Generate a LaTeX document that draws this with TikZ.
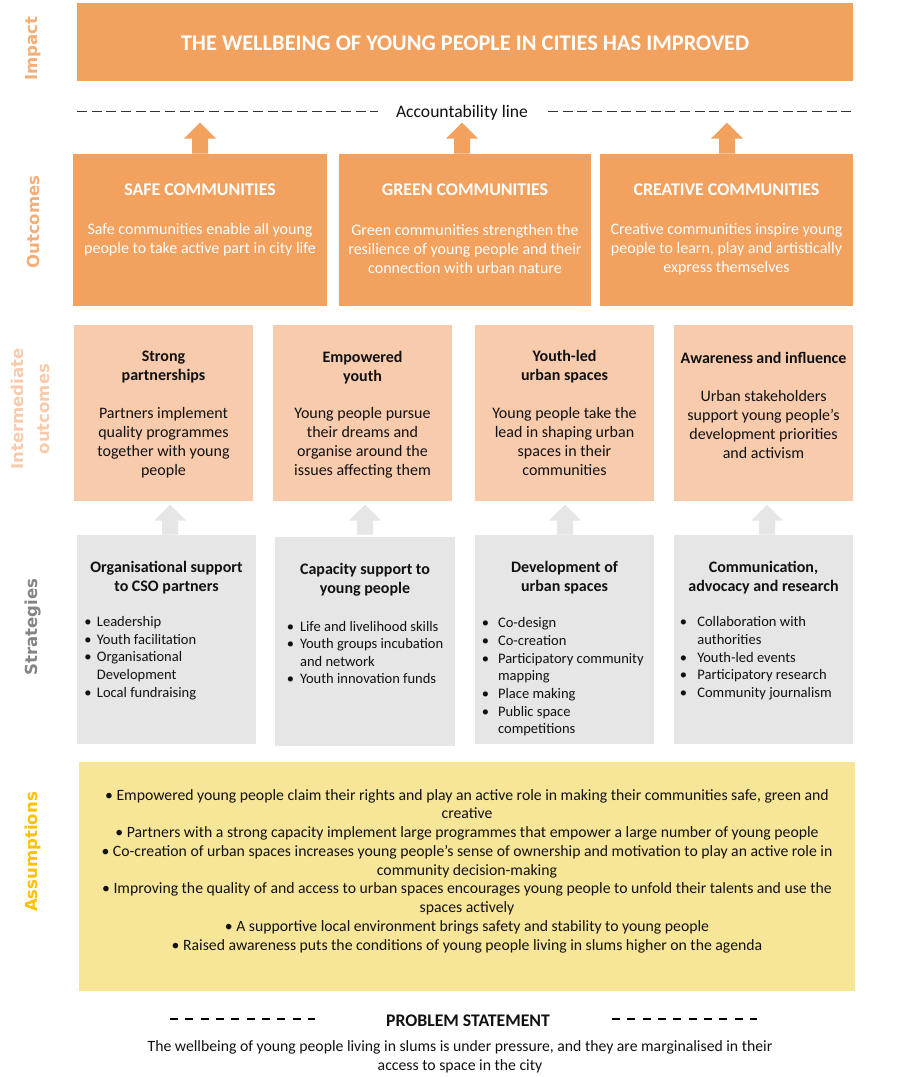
\documentclass[tikz,border=0pt]{standalone}
\usepackage{fontspec}
\setmainfont{Carlito}
\newfontfamily\labfont{DejaVu Sans}
\usetikzlibrary{calc,fit}
\definecolor{orA}{HTML}{F3A15F}
\definecolor{peach}{HTML}{F8CBAD}
\definecolor{grayA}{HTML}{E6E6E6}
\definecolor{yelA}{HTML}{F8E698}
\definecolor{labImp}{HTML}{F4AE78}
\definecolor{labInt}{HTML}{F8CBAD}
\definecolor{labStr}{HTML}{858585}
\definecolor{labAss}{HTML}{FFC000}
\definecolor{txt}{HTML}{111111}
\newcommand\bl[1][9.5pt]{\makebox[#1][l]{\textbullet}}
\newcommand\bi[1][9.5pt]{\hspace*{#1}}
\tikzset{
  frame/.style={inner sep=0pt, draw=none},
  sidelab/.style={rotate=90, font=\labfont\fontsize{12.4}{19.5}\selectfont\bfseries, inner sep=0pt, align=center},
  wtitle/.style={text=white, font=\fontsize{13.4}{16}\selectfont\bfseries, inner sep=0pt},
  wbody/.style={text=white, font=\fontsize{12}{14.25}\selectfont, inner sep=0pt, align=center},
  ktitle/.style={text=txt, font=\fontsize{12}{14.25}\selectfont\bfseries, inner sep=0pt, align=center},
  kbody/.style={text=txt, font=\fontsize{12}{14.25}\selectfont, inner sep=0pt, align=center},
  blist/.style={text=txt, font=\fontsize{10.9}{13.25}\selectfont, inner sep=0pt, align=left, anchor=west},
  accline/.style={draw=black!80, line width=0.75pt, dash pattern=on 7.5pt off 3.5pt},
  probline/.style={draw=black, line width=1.5pt, dash pattern=on 6pt off 5.5pt},
  uparrow/.pic={\fill (-8,0) -- (-8,-15) -- (-16,-15) -- (0,-31) -- (16,-15) -- (8,-15) -- (8,0) -- cycle;},
  guparrow/.pic={\fill (-8,0) -- (-8,-14) -- (-16,-14) -- (0,-30) -- (16,-14) -- (8,-14) -- (8,0) -- cycle;}
}
\begin{document}
\begin{tikzpicture}[x=0.75pt,y=-0.75pt]
\useasboundingbox (0,0) rectangle (911,1077);
\fill[white] (0,0) rectangle (911,1077);

% side labels
\node[sidelab, text=labImp] (labImpact) at (33,48.5) {Impact};
\node[sidelab, text=labImp] (labOut) at (33,222) {Outcomes};
\node[sidelab, text=labInt] (labInt) at (30,409) {Intermediate\\outcomes};
\node[sidelab, text=labStr] (labStr) at (33,627) {Strategies};
\node[sidelab, text=labAss] (labAss) at (33,852) {Assumptions};

% impact
\node[frame, fill=orA, fit={(77,3) (853,81)}] (imp) {};
\node[text=white, font=\fontsize{16.8}{19}\selectfont\bfseries, inner sep=0pt] (impt) at (465,43) {THE WELLBEING OF YOUNG PEOPLE IN CITIES HAS IMPROVED};

% accountability line
\node[text=txt, font=\fontsize{13.2}{15}\selectfont, inner sep=0pt] (acc) at (462,113) {Accountability line};
\coordinate (accA) at (77,112);
\coordinate (accB) at (378,112);
\coordinate (accC) at (548,112);
\coordinate (accD) at (853,112);
\draw[accline] (accA) -- (accB);
\draw[accline] (accC) -- (accD);

% outcomes
\node[frame, fill=orA, fit={(73,154) (327,306)}] (o1) {};
\node[frame, fill=orA, fit={(339,154) (591,306)}] (o2) {};
\node[frame, fill=orA, fit={(600,154) (853,306)}] (o3) {};
\node[wtitle] (o1t) at (200,190) {SAFE COMMUNITIES};
\node[wtitle] (o2t) at (465,190) {GREEN COMMUNITIES};
\node[wtitle] (o3t) at (726.5,190) {CREATIVE COMMUNITIES};
\node[wbody] (o1b) at (200,239.5) {Safe communities enable all young\\people to take active part in city life};
\node[wbody] (o2b) at (465,249) {Green communities strengthen the\\resilience of young people and their\\connection with urban nature};
\node[wbody] (o3b) at (726.5,249) {Creative communities inspire young\\people to learn, play and artistically\\express themselves};
\pic[orA] at ($(o1.north)+(0,0)$) {uparrow};
\pic[orA] at ($(o2.north)+(-3,0)$) {uparrow};
\pic[orA] at ($(o3.north)+(0.5,0)$) {uparrow};

% intermediate outcomes
\node[frame, fill=peach, fit={(74,325) (253,501)}] (i1) {};
\node[frame, fill=peach, fit={(273,325) (452,501)}] (i2) {};
\node[frame, fill=peach, fit={(475,325) (654,501)}] (i3) {};
\node[frame, fill=peach, fit={(674,325) (853,501)}] (i4) {};
\node[ktitle] (i1t) at (163.5,367.5) {Strong\\partnerships};
\node[ktitle] (i2t) at (362.5,367.5) {Empowered\\youth};
\node[ktitle] (i3t) at (564.5,366.5) {Youth-led\\urban spaces};
\node[ktitle] (i4t) at (763.5,358) {Awareness and influence};
\node[kbody] (i1b) at (163.5,442.5) {Partners implement\\quality programmes\\together with young\\people};
\node[kbody] (i2b) at (362.5,443) {Young people pursue\\their dreams and\\organise around the\\issues affecting them};
\node[kbody] (i3b) at (564.5,441.5) {Young people take the\\lead in shaping urban\\spaces in their\\communities};
\node[kbody] (i4b) at (763.5,424.5) {Urban stakeholders\\support young people’s\\development priorities\\and activism};

% strategies
\node[frame, fill=grayA, fit={(77,535) (256,744)}] (s1) {};
\node[frame, fill=grayA, fit={(275,537) (455,746)}] (s2) {};
\node[frame, fill=grayA, fit={(475,535) (654,744)}] (s3) {};
\node[frame, fill=grayA, fit={(674,535) (853,744)}] (s4) {};
\pic[grayA] at ($(s1.north)+(3.5,0)$) {guparrow};
\pic[grayA] at ($(s2.north)+(0,-2)$) {guparrow};
\pic[grayA] at ($(s3.north)+(0.5,0)$) {guparrow};
\pic[grayA] at ($(s4.north)+(3.5,0)$) {guparrow};
\node[ktitle] (s1t) at (166.5,577.5) {Organisational support\\to CSO partners};
\node[ktitle] (s2t) at (365,580) {Capacity support to\\young people};
\node[ktitle] (s3t) at (564.5,577.5) {Development of\\urban spaces};
\node[ktitle] (s4t) at (763.5,577.5) {Communication,\\advocacy and research};
\node[blist] (s1l) at (84,658) {\bl Leadership\\\bl Youth facilitation\\\bl Organisational\\\bi Development\\\bl Local fundraising};
\node[blist] (s2l) at (286.5,652.5) {\bl[7.5pt] Life and livelihood skills\\\bl[7.5pt] Youth groups incubation\\\bi[7.5pt] and network\\\bl[7.5pt] Youth innovation funds};
\node[blist] (s3l) at (481.5,677) {\bl[9.75pt] Co-design\\\bl[9.75pt] Co-creation\\\bl[9.75pt] Participatory community\\\bi[9.75pt] mapping\\\bl[9.75pt] Place making\\\bl[9.75pt] Public space\\\bi[9.75pt] competitions};
\node[blist] (s4l) at (679.5,658.5) {\bl[10.7pt] Collaboration with\\\bi[10.7pt] authorities\\\bl[10.7pt] Youth-led events\\\bl[10.7pt] Participatory research\\\bl[10.7pt] Community journalism};

% assumptions
\node[frame, fill=yelA, fit={(79,762) (855,991)}] (ass) {};
\node[text=txt, font=\fontsize{11.8}{14.06}\selectfont, inner sep=0pt, align=center] (asst) at (467,871) {%
\textbullet\ Empowered young people claim their rights and play an active role in making their communities safe, green and\\
creative\\
\textbullet\ Partners with a strong capacity implement large programmes that empower a large number of young people\\
\textbullet\ Co-creation of urban spaces increases young people’s sense of ownership and motivation to play an active role in\\
community decision-making\\
\textbullet\ Improving the quality of and access to urban spaces encourages young people to unfold their talents and use the\\
spaces actively\\
\textbullet\ A supportive local environment brings safety and stability to young people\\
\textbullet\ Raised awareness puts the conditions of young people living in slums higher on the agenda};

% problem statement
\coordinate (pA) at (170,1019);
\coordinate (pB) at (315,1019);
\coordinate (pC) at (612,1019);
\coordinate (pD) at (757,1019);
\draw[probline] (pA) -- (pB);
\draw[probline] (pC) -- (pD);
\node[text=txt, font=\fontsize{13.3}{15}\selectfont\bfseries, inner sep=0pt] (prob) at (468,1021) {PROBLEM STATEMENT};
\node[text=txt, font=\fontsize{11.8}{14.25}\selectfont, inner sep=0pt, align=center] (probt) at (460,1056.5) {The wellbeing of young people living in slums is under pressure, and they are marginalised in their\\access to space in the city};
\end{tikzpicture}
\end{document}
